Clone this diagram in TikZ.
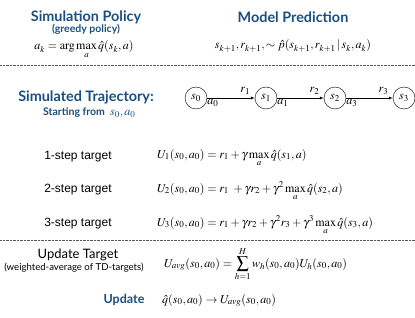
\documentclass[tikz,border=0pt]{standalone}
\usepackage{mathptmx}
\usepackage[no-math]{fontspec}
\setmainfont{Liberation Serif}
\setsansfont{Liberation Sans}
\newfontfamily\headfont{Lato}
\usetikzlibrary{positioning}
\definecolor{darkblue}{rgb}{0.10, 0.31, 0.50}
\tikzstyle{heading} = [text=darkblue, font=\headfont\bfseries\Large, inner sep=0pt]
\tikzstyle{subheading} = [text=darkblue, font=\headfont\bfseries\fontsize{10.5}{12}\selectfont, inner sep=0pt]
\tikzstyle{steplabel} = [font=\sffamily\large, inner sep=0pt]
\tikzstyle{formula} = [anchor=base west, inner sep=0pt, font=\large]
\tikzstyle{state} = [circle, draw, thin, minimum size=22pt, inner sep=0pt, font=\large]
\tikzstyle{arrow} = [thin,->,>=latex]
\tikzstyle{separator} = [densely dotted, thin, gray!70!black]

\begin{document}
\begin{tikzpicture}[x=1pt, y=-1pt, node distance=69pt]
\useasboundingbox (0,0) rectangle (415,318);

% Top row
\node (simpol) [heading] at (86,17) {Simulation Policy};
\node (greedy) [subheading] at (86,29) {(greedy policy)};
\node (polfml) [anchor=base, inner sep=0pt, font=\large] at (84,50) {$\displaystyle a_k = \arg\max_a \hat{q}(s_k, a)$};

\node (modpred) [heading] at (293,17) {Model Prediction};
\node (modfml) [anchor=base, inner sep=0pt, font=\large] at (293,49) {$s_{k+1}, r_{k+1}, \sim \hat{p}(s_{k+1}, r_{k+1} \,|\, s_k, a_k)$};

\coordinate (sepAleft) at (0,65);
\coordinate (sepAright) at (415,65);
\draw [separator] (sepAleft) -- (sepAright);

% Trajectory
\node (simtraj) [heading] at (86,97) {Simulated Trajectory:};
\node (startfrom) [subheading, anchor=base west] at (43,116) {Starting from \ {\large$s_0, a_0$}};

\node (s0) [state] at (196,98) {$s_0$};
\node (s1) [state, right of=s0, xshift=1pt] {$s_1$};
\node (s2) [state, right of=s1] {$s_2$};
\node (s3) [state, right of=s2] {$s_3$};

\draw [arrow] (s0) -- node[pos=0.8, above, font=\large] {$r_1$} node[pos=0, below right, inner sep=0pt, yshift=-1pt, font=\large] {$a_0$} (s1);
\draw [arrow] (s1) -- node[pos=0.8, above, font=\large] {$r_2$} node[pos=0, below right, inner sep=0pt, yshift=-1pt, font=\large] {$a_1$} (s2);
\draw [arrow] (s2) -- node[pos=0.8, above, font=\large] {$r_3$} node[pos=0, below right, inner sep=0pt, yshift=-1pt, font=\large] {$a_3$} (s3);

% Targets
\node (step1) [steplabel] at (78,157) {1-step target};
\node (step2) [steplabel] at (78,190) {2-step target};
\node (step3) [steplabel] at (78,224) {3-step target};

\node (fml1) [formula] at (157,158) {$\displaystyle U_1(s_0, a_0) = r_1 + \gamma \max_a \hat{q}(s_1, a)$};
\node (fml2) [formula] at (157,192) {$\displaystyle U_2(s_0, a_0) = r_1 \ + \gamma r_2 + \gamma^2 \max_a \hat{q}(s_2, a)$};
\node (fml3) [formula] at (157,226) {$\displaystyle U_3(s_0, a_0) = r_1 + \gamma r_2 + \gamma^2 r_3 + \gamma^3 \max_a \hat{q}(s_3, a)$};

\coordinate (sepBleft) at (0,240);
\coordinate (sepBright) at (415,240);
\draw [separator] (sepBleft) -- (sepBright);

% Update
\node (updtarget) [font=\headfont\fontsize{13}{15}\selectfont, inner sep=0pt] at (78,255) {Update Target};
\node (weighted) [font=\headfont\fontsize{9.6}{11}\selectfont, inner sep=0pt] at (74,268) {(weighted-average of TD-targets)};
\node (avgfml) [formula] at (164,267) {$\displaystyle U_{avg}(s_0, a_0) = \sum_{h=1}^{H} w_h(s_0, a_0) U_h(s_0, a_0)$};

\node (update) [heading, font=\headfont\bfseries\fontsize{12.5}{14}\selectfont, anchor=base] at (124,303) {Update};
\node (updfml) [formula] at (162,303) {$\hat{q}(s_0, a_0) \rightarrow U_{avg}(s_0, a_0)$};

\end{tikzpicture}
\end{document}
